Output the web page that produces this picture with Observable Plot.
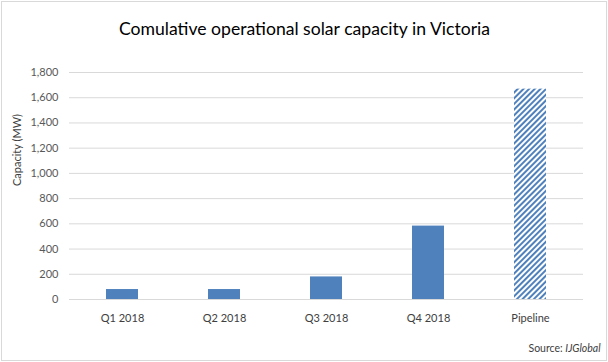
<!DOCTYPE html>
<html>
<head>
<meta charset="utf-8">
<script src="https://cdn.jsdelivr.net/npm/d3@7"></script>
<script src="https://cdn.jsdelivr.net/npm/@observablehq/plot@0.6"></script>
<style>
  html, body { margin: 0; padding: 0; background: #fff; }
  #chart svg { display: block; outline: 1px solid #d9d9d9; outline-offset: -2px; }
</style>
</head>
<body>
<div id="chart"></div>
<script>
const categories = ["Q1 2018", "Q2 2018", "Q3 2018", "Q4 2018", "Pipeline"];
const values = [79, 79, 179, 582, 1668];
const yTicks = [0, 200, 400, 600, 800, 1000, 1200, 1400, 1600, 1800];
const title = "Comulative operational solar capacity in Victoria";
const yLabel = "Capacity (MW)";
const sourceLabel = "Source: ";
const sourceName = "IJGlobal";

const data = categories.map((c, i) => ({category: c, value: values[i]}));
const font = "Lato, 'Open Sans', sans-serif";

function hatchDefs() {
  const defs = d3.create("svg:defs");
  const p = defs.append("pattern")
    .attr("id", "hatch")
    .attr("patternUnits", "userSpaceOnUse")
    .attr("width", 4).attr("height", 4)
    .attr("patternTransform", "rotate(45)");
  p.append("rect").attr("width", 4).attr("height", 4).attr("fill", "#ffffff");
  p.append("rect").attr("width", 2).attr("height", 4).attr("fill", "#4f81bd");
  return defs.node();
}

const chart = Plot.plot({
  width: 608,
  height: 362,
  marginTop: 72,
  marginBottom: 63,
  marginLeft: 69,
  marginRight: 25,
  style: {fontFamily: font, fontSize: "11px", color: "#595959", background: "#fff"},
  x: {domain: categories, paddingInner: 0.69, paddingOuter: 0.345, label: null},
  y: {domain: [0, 1800], label: null},
  marks: [
    hatchDefs,
    Plot.gridY(yTicks, {stroke: "#d9d9d9", strokeOpacity: 1}),
    Plot.axisY(yTicks, {tickSize: 0, tickPadding: 11, tickFormat: d3.format(","), fill: "#595959", fontSize: 11}),
    Plot.axisX({tickSize: 0, tickPadding: 15, fill: "#404040", fontSize: 11}),
    Plot.barY(data.filter(d => d.category !== "Pipeline"), {x: "category", y: "value", fill: "#4f81bd"}),
    Plot.barY(data.filter(d => d.category === "Pipeline"), {x: "category", y: "value", fill: "url(#hatch)"}),
    Plot.ruleY([0], {stroke: "#d9d9d9"}),
    Plot.text([title], {frameAnchor: "top", dx: -22, dy: -50, fontSize: 17.6, fill: "#000", fontFamily: font}),
    Plot.text([yLabel], {frameAnchor: "left", dx: -52, rotate: -90, fontSize: 11, fill: "#404040"}),
    Plot.text([sourceLabel + sourceName], {frameAnchor: "bottom-right", dx: 17, dy: 52, textAnchor: "end", fontSize: 10.5, fill: "#404040"})
  ]
});

// split the source caption into a regular and an italic part
d3.select(chart).selectAll("text")
  .filter(function() { return this.textContent === sourceLabel + sourceName; })
  .each(function() {
    const t = d3.select(this);
    t.text(null);
    t.append("tspan").text(sourceLabel);
    t.append("tspan").attr("font-style", "italic").text(sourceName);
  });

document.getElementById("chart").appendChild(chart);
</script>
</body>
</html>
